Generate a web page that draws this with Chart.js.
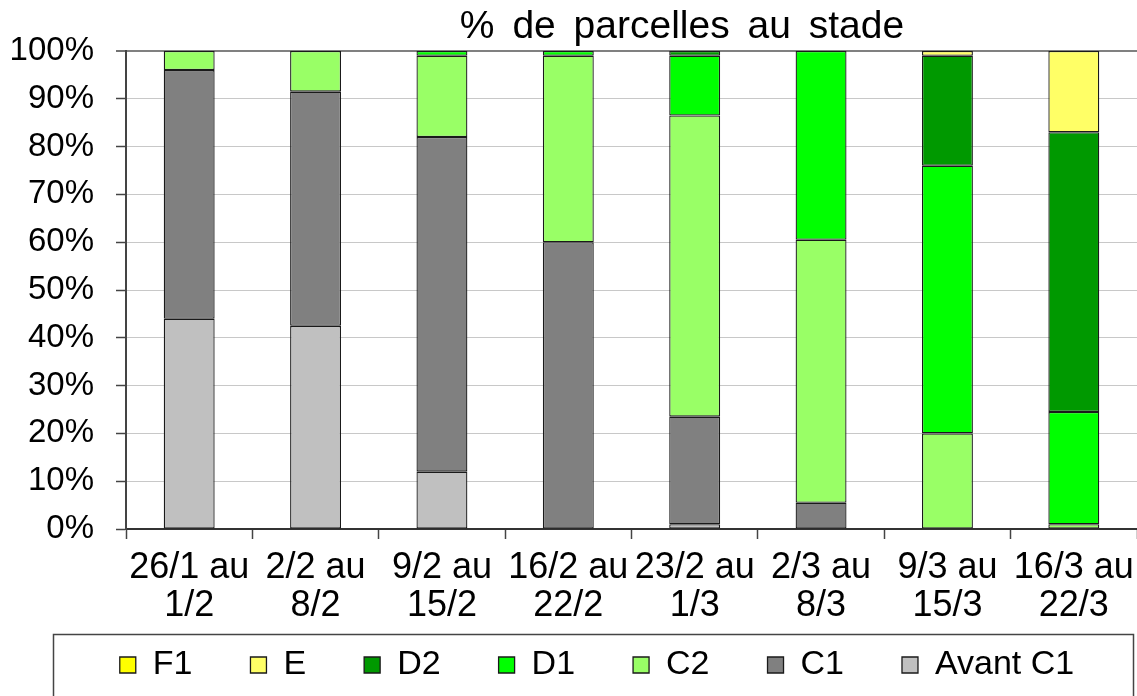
<!DOCTYPE html>
<html>
<head>
<meta charset="utf-8">
<script src="https://cdn.jsdelivr.net/npm/chart.js@4"></script>
<style>
  body { margin: 0; background: #fff; }
  #wrap { width: 1137px; height: 696px; }
</style>
</head>
<body>
<div id="wrap"><canvas id="myChart" width="1137" height="696"></canvas></div>
<script>
// semaines
const categories = [
  ['26/1 au', '1/2'], ['2/2 au', '8/2'], ['9/2 au', '15/2'], ['16/2 au', '22/2'],
  ['23/2 au', '1/3'], ['2/3 au', '8/3'], ['9/3 au', '15/3'], ['16/3 au', '22/3']
];
// % de parcelles par stade
const avantC1 = [44, 42.5, 12, 0, 1, 0, 0, 0];
const c1 = [52, 49, 70, 60, 22.5, 5.5, 0, 0];
const c2 = [4, 8.5, 17, 39, 63, 55, 20, 1];
const d1 = [0, 0, 1, 1, 12.5, 39.5, 56, 23.5];
const d2 = [0, 0, 0, 0, 1, 0, 23, 58.5];
const e = [0, 0, 0, 0, 0, 0, 1, 17];
const f1 = [0, 0, 0, 0, 0, 0, 0, 0];
const yTicks = [0, 10, 20, 30, 40, 50, 60, 70, 80, 90, 100];

const FONT = 'Liberation Sans, Arial, sans-serif';

function ds(label, data, color) {
  return {
    label: label, data: data, backgroundColor: color,
    borderColor: '#1a1a1a', borderWidth: 1.3, borderSkipped: false,
    barPercentage: 0.403, categoryPercentage: 1
  };
}

// titre, décalage et cadre de la légende
const extras = {
  id: 'extras',
  afterLayout(chart) {
    const lg = chart.legend;
    lg.left += 28; lg.right += 28;
    lg.top -= 44; lg.bottom -= 44;
  },
  afterDraw(chart) {
    const c = chart.ctx;
    c.save();
    c.fillStyle = '#000';
    c.font = '39px ' + FONT;
    if ('wordSpacing' in c) c.wordSpacing = '7px';
    c.textAlign = 'center';
    c.textBaseline = 'middle';
    c.fillText('% de parcelles au stade', 682, 27);
    c.strokeStyle = '#444';
    c.lineWidth = 1.5;
    c.strokeRect(53.5, 634.5, 1080, 80);
    c.restore();
  }
};

const ctx = document.getElementById('myChart').getContext('2d');
const myChart = new Chart(ctx, {
  type: 'bar',
  data: {
    labels: categories,
    datasets: [
      ds('Avant C1', avantC1, '#c0c0c0'),
      ds('C1', c1, '#808080'),
      ds('C2', c2, '#99ff66'),
      ds('D1', d1, '#00ff00'),
      ds('D2', d2, '#009900'),
      ds('E', e, '#ffff66'),
      ds('F1', f1, '#ffff00')
    ]
  },
  options: {
    responsive: false,
    animation: false,
    layout: { padding: { top: 51, right: -1, left: 0, bottom: -40 } },
    plugins: {
      title: { display: false },
      tooltip: { enabled: false },
      legend: {
        position: 'bottom',
        reverse: true,
        labels: {
          font: { family: FONT, size: 34 },
          color: '#000',
          boxWidth: 16, boxHeight: 16,
          padding: 58
        }
      }
    },
    scales: {
      x: {
        stacked: true,
        offset: true,
        afterFit(s) { s.height = 105; s.paddingLeft = 0; s.paddingRight = 0; },
        grid: { display: true, drawOnChartArea: false, offset: true, tickLength: 10, tickColor: '#444', tickWidth: 1.5 },
        border: { color: '#333', width: 2 },
        ticks: { font: { family: FONT, size: 36, lineHeight: 1.06 }, color: '#000', padding: 10, maxRotation: 0, autoSkip: false }
      },
      y: {
        stacked: true,
        min: 0, max: 100,
        afterFit(s) { s.width = 126; },
        afterBuildTicks(s) { s.ticks = yTicks.map(v => ({ value: v })); },
        grid: {
          color: c => c.tick && c.tick.value === 100 ? '#808080' : '#c8c8c8',
          lineWidth: c => c.tick && c.tick.value === 100 ? 2 : 1,
          tickLength: 10, tickColor: '#444', tickWidth: 1.5
        },
        border: { color: '#444', width: 2 },
        ticks: { font: { family: FONT, size: 33 }, color: '#000', padding: 22, callback: v => v + '%' }
      }
    }
  },
  plugins: [extras]
});
</script>
</body>
</html>
